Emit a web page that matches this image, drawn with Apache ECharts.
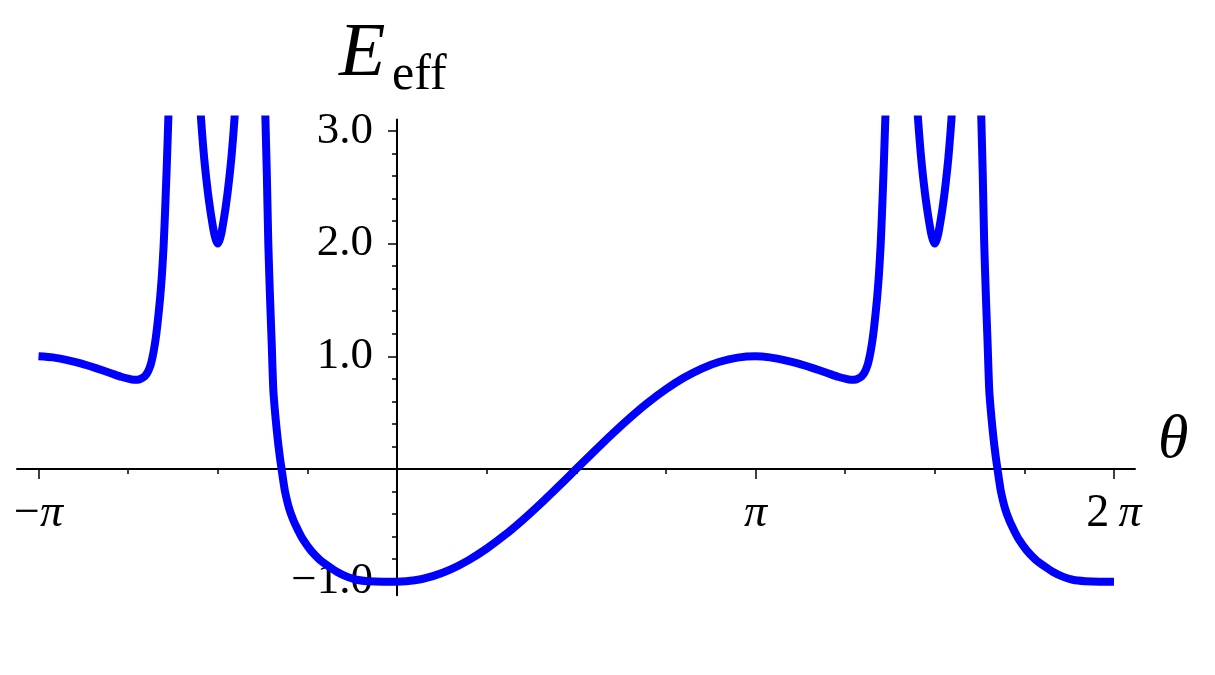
<!DOCTYPE html>
<html>
<head>
<meta charset="utf-8">
<script src="https://cdn.jsdelivr.net/npm/echarts@6/dist/echarts.min.js"></script>
<style>
html,body{margin:0;padding:0;background:#fff;}
#chart{width:1215px;height:675px;}
</style>
</head>
<body>
<div id="chart"></div>
<script>
// theta given in units of pi, E_eff values
const branchLeftOuter = [[-1.000,1.000],[-0.960,0.990],[-0.920,0.966],[-0.880,0.935],[-0.840,0.895],[-0.800,0.852],[-0.770,0.818],[-0.750,0.801],[-0.740,0.794],[-0.730,0.791],[-0.720,0.794],[-0.712,0.804],[-0.704,0.822],[-0.697,0.850],[-0.691,0.890],[-0.685,0.950],[-0.679,1.040],[-0.673,1.160],[-0.667,1.320],[-0.661,1.510],[-0.656,1.710],[-0.651,1.980],[-0.647,2.280],[-0.643,2.620],[-0.640,2.900],[-0.637,3.200],[-0.634,3.600]];
const branchLeftInner = [[-0.5505,3.30],[-0.5465,3.10],[-0.543,2.95],[-0.538,2.76],[-0.5325,2.59],[-0.527,2.44],[-0.521,2.30],[-0.515,2.18],[-0.510,2.09],[-0.505,2.03],[-0.500,2.00],[-0.495,2.03],[-0.490,2.09],[-0.485,2.18],[-0.479,2.30],[-0.473,2.44],[-0.4675,2.59],[-0.462,2.76],[-0.457,2.95],[-0.4535,3.10],[-0.4495,3.30]];
const branchLeftRise = [[-0.3700,3.50],[-0.3670,3.10],[-0.3630,2.60],[-0.3590,2.00],[-0.3540,1.50],[-0.3496,1.12],[-0.3450,0.70],[-0.3390,0.46],[-0.3330,0.27],[-0.3270,0.11],[-0.3220,0.00],[-0.3170,-0.11],[-0.3124,-0.20],[-0.3010,-0.35],[-0.2893,-0.453],[-0.2750,-0.55],[-0.2614,-0.63],[-0.2400,-0.725],[-0.2148,-0.807],[-0.1900,-0.865],[-0.1682,-0.911],[-0.1400,-0.955],[-0.1124,-0.983],[-0.0800,-0.996],[-0.0400,-1.000]];
const branchMiddle = [[0.00,-1.000],[0.05,-0.988],[0.10,-0.951],[0.15,-0.891],[0.20,-0.809],[0.25,-0.707],[0.30,-0.588],[0.35,-0.454],[0.40,-0.309],[0.45,-0.156],[0.50,0.000],[0.55,0.156],[0.60,0.309],[0.65,0.454],[0.70,0.588],[0.75,0.707],[0.80,0.809],[0.85,0.891],[0.90,0.951],[0.95,0.988]];
const branchRightOuter = [[1.000,1.000],[1.040,0.990],[1.080,0.966],[1.120,0.935],[1.160,0.895],[1.200,0.852],[1.230,0.818],[1.250,0.801],[1.260,0.794],[1.270,0.791],[1.280,0.794],[1.288,0.804],[1.296,0.822],[1.303,0.850],[1.309,0.890],[1.315,0.950],[1.321,1.040],[1.327,1.160],[1.333,1.320],[1.339,1.510],[1.344,1.710],[1.349,1.980],[1.353,2.280],[1.357,2.620],[1.360,2.900],[1.363,3.200],[1.366,3.600]];
const branchRightInner = [[1.4495,3.30],[1.4535,3.10],[1.457,2.95],[1.462,2.76],[1.4675,2.59],[1.473,2.44],[1.479,2.30],[1.485,2.18],[1.490,2.09],[1.495,2.03],[1.500,2.00],[1.505,2.03],[1.510,2.09],[1.515,2.18],[1.521,2.30],[1.527,2.44],[1.5325,2.59],[1.538,2.76],[1.543,2.95],[1.5465,3.10],[1.5505,3.30]];
const branchRightFall = [[1.6270,3.50],[1.6300,3.10],[1.6340,2.60],[1.6380,2.00],[1.6430,1.50],[1.6474,1.12],[1.6520,0.70],[1.6580,0.46],[1.6640,0.27],[1.6700,0.11],[1.6750,0.00],[1.6800,-0.11],[1.6846,-0.20],[1.6960,-0.35],[1.7077,-0.453],[1.7220,-0.55],[1.7356,-0.63],[1.7570,-0.725],[1.7822,-0.807],[1.8070,-0.865],[1.8288,-0.911],[1.8570,-0.955],[1.8846,-0.983],[1.9200,-0.996],[1.9600,-1.000],[2.0000,-1.000]];

const xMinorTicks = [-1,-0.75,-0.5,-0.25,0.25,0.5,0.75,1,1.25,1.5,1.75,2];
const xMajorTicks = [-1,1,2];
const xTickLabels = {'-1':'{m|−}{p|π}','1':'{p|π}','2':'{m|2\u2009}{p|π}'};
const yMajorTicks = [-1,1,2,3];
const yMinorTicks = [-0.8,-0.6,-0.4,-0.2,0.2,0.4,0.6,0.8,1.2,1.4,1.6,1.8,2.2,2.4,2.6,2.8];
const yTickLabels = {'-1':'−1.0','1':'1.0','2':'2.0','3':'3.0'};

const FONT = '"Liberation Serif","DejaVu Serif",serif';
const chart = echarts.init(document.getElementById('chart'), null, {renderer:'canvas'});

const curveStyle = {color:'#0000ff', width:8, cap:'butt', join:'round'};
function curve(data){
  return {type:'line', data:data, showSymbol:false, symbol:'none', clip:true, smooth:0.2,
    xAxisIndex:0, yAxisIndex:0, lineStyle:curveStyle, itemStyle:{color:'#0000ff'}, silent:true, z:3};
}
const axisLineStyle = {color:'#000', width:2};
const xRange = {min:-1.06, max:2.0586};
const yRange = {min:-1.12, max:3.1};
const hidden = {show:false};
const gridBase = {containLabel:false, outerBoundsMode:'none'};

chart.setOption({
  animation:false,
  backgroundColor:'#fff',
  grid:[
    Object.assign({left:17, right:80, top:119.6, bottom:79.8}, gridBase),
    Object.assign({left:17, right:80, top:119.6, bottom:206}, gridBase),
    Object.assign({left:397, right:80, top:119.6, bottom:79.8}, gridBase)
  ],
  xAxis:[
    Object.assign({type:'value', gridIndex:0, show:false, splitLine:hidden}, xRange),
    Object.assign({type:'value', gridIndex:1, position:'bottom', axisLine:{show:true, onZero:false, lineStyle:axisLineStyle},
      axisTick:{show:true, customValues:xMinorTicks, length:5, lineStyle:{color:'#000', width:1.5}},
      axisLabel:{show:false}, splitLine:hidden}, xRange),
    Object.assign({type:'value', gridIndex:1, position:'bottom', axisLine:{show:false, onZero:false},
      axisTick:{show:true, customValues:xMajorTicks, length:10, lineStyle:{color:'#000', width:1.5}},
      axisLabel:{show:true, customValues:xMajorTicks, margin:22, color:'#000',
        formatter:function(v){return xTickLabels[String(v)] || '';},
        rich:{m:{fontFamily:FONT, fontSize:46, color:'#000'}, p:{fontFamily:FONT, fontSize:46, fontStyle:'italic', color:'#000'}}},
      splitLine:hidden}, xRange),
    {type:'value', gridIndex:2, show:false, min:0, max:1, splitLine:hidden}
  ],
  yAxis:[
    Object.assign({type:'value', gridIndex:0, show:false, splitLine:hidden}, yRange),
    {type:'value', gridIndex:1, show:false, min:0, max:1, splitLine:hidden},
    Object.assign({type:'value', gridIndex:2, position:'left', axisLine:{show:true, onZero:false, lineStyle:axisLineStyle},
      axisTick:{show:true, customValues:yMajorTicks, length:9, lineStyle:{color:'#000', width:1.5}},
      axisLabel:{show:true, customValues:yMajorTicks, margin:24, color:'#000', fontFamily:FONT, fontSize:45,
        formatter:function(v){return yTickLabels[String(v)] || '';}},
      splitLine:hidden}, yRange),
    Object.assign({type:'value', gridIndex:2, position:'left', axisLine:{show:false, onZero:false},
      axisTick:{show:true, customValues:yMinorTicks, length:5, lineStyle:{color:'#000', width:1.5}},
      axisLabel:{show:false}, splitLine:hidden}, yRange)
  ],
  graphic:[
    {type:'text', x:339, y:55, style:{text:'E', font:'italic 76px "Liberation Serif"', fill:'#000', textAlign:'left', textVerticalAlign:'middle', verticalAlign:'middle'}},
    {type:'text', x:392, y:76, style:{text:'eff', font:'50px "Liberation Serif"', fill:'#000', textAlign:'left', textVerticalAlign:'middle', verticalAlign:'middle'}},
    {type:'text', x:1158, y:441, style:{text:'θ', font:'italic 62px "Liberation Serif"', fill:'#000', textAlign:'left', textVerticalAlign:'middle', verticalAlign:'middle'}}
  ],
  series:[
    curve(branchLeftOuter),
    curve(branchLeftInner),
    curve(branchLeftRise.concat(branchMiddle, branchRightOuter)),
    curve(branchRightInner),
    curve(branchRightFall)
  ]
});
</script>
</body>
</html>
